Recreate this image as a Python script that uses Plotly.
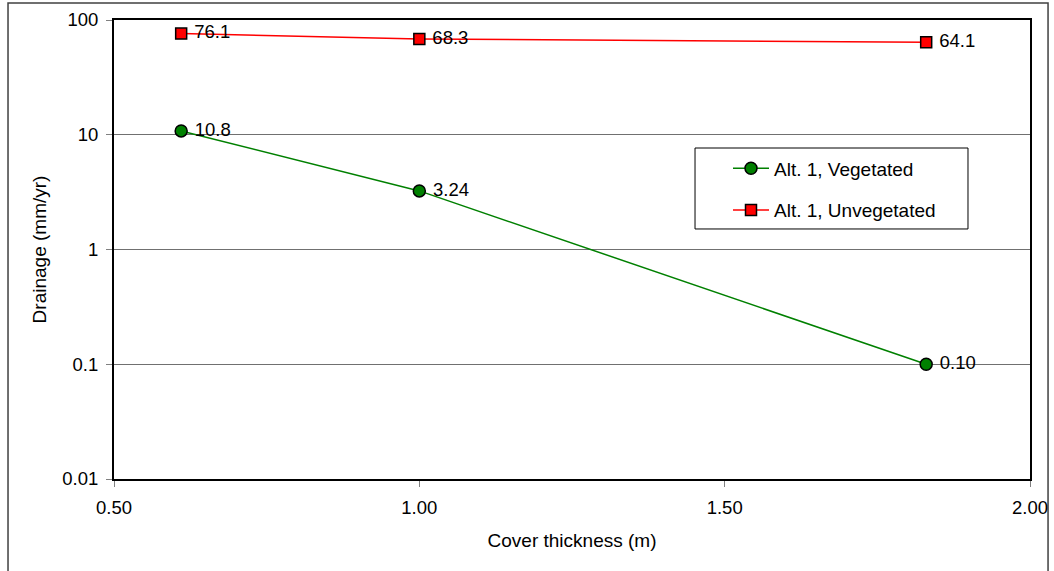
import plotly.graph_objects as go

thickness = [0.61, 1.00, 1.83]
veg = [10.8, 3.24, 0.10]
veg_labels = ["10.8", "3.24", "0.10"]
unveg = [76.1, 68.3, 64.1]
unveg_labels = ["76.1", "68.3", "64.1"]
y_ticks = [0.01, 0.1, 1, 10, 100]
y_tick_text = ["0.01", "0.1", "1", "10", "100"]
x_ticks = [0.5, 1.0, 1.5, 2.0]
x_tick_text = ["0.50", "1.00", "1.50", "2.00"]

font = "Liberation Sans, Arial, sans-serif"
pad = "\u00a0"

fig = go.Figure()
fig.add_trace(go.Scatter(
    x=thickness, y=veg, mode="lines+markers+text", name="Alt. 1, Vegetated",
    legendgroup="veg",
    text=[pad + t for t in veg_labels], textposition="middle right",
    textfont=dict(size=18.5, color="black", family=font),
    line=dict(color="#008000", width=1.5),
    marker=dict(symbol="circle", size=12, color="#008000", line=dict(color="black", width=1.5)),
))
fig.add_trace(go.Scatter(
    x=thickness, y=unveg, mode="lines+markers+text", name="Alt. 1, Unvegetated",
    legendgroup="unveg",
    text=[pad + t for t in unveg_labels], textposition="middle right",
    textfont=dict(size=18.5, color="black", family=font),
    line=dict(color="#ff0000", width=1.5),
    marker=dict(symbol="square", size=11, color="#ff0000", line=dict(color="black", width=1.5)),
))

# outer chart frame
fig.add_shape(type="rect", xref="paper", yref="paper",
              x0=-0.1157, x1=1.0197, y0=-0.4, y1=1.037,
              line=dict(color="#404040", width=1.5), layer="below")
# legend frame
fig.add_shape(type="rect", xref="paper", yref="paper",
              x0=0.6343, x1=0.9323, y0=0.5447, y1=0.7211,
              line=dict(color="black", width=1), fillcolor="white", layer="below")

fig.update_layout(
    width=1054, height=571,
    margin=dict(l=114, r=24, t=20, b=92),
    paper_bgcolor="white", plot_bgcolor="rgba(0,0,0,0)",
    font=dict(family=font, color="black", size=18.5),
    showlegend=True,
    legend=dict(
        x=(728 - 114) / 916, y=0.718, xanchor="left", yanchor="top",
        bgcolor="rgba(0,0,0,0)", borderwidth=0,
        font=dict(size=19, family=font),
        tracegroupgap=14, itemwidth=36,
    ),
    xaxis=dict(
        range=[0.5, 2.0], tickvals=x_ticks, ticktext=x_tick_text,
        showgrid=False, zeroline=False, automargin=False,
        showline=True, linecolor="black", linewidth=2, mirror=True,
        ticks="outside", ticklen=6, tickcolor="#808080",
        tickfont=dict(size=18.5), ticklabelstandoff=5,
        title=dict(text="Cover thickness (m)", font=dict(size=19), standoff=16),
    ),
    yaxis=dict(
        type="log", range=[-2, 2], tickvals=y_ticks, ticktext=y_tick_text,
        showgrid=True, gridcolor="#707070", gridwidth=1, zeroline=False, automargin=False,
        showline=True, linecolor="black", linewidth=2, mirror=True,
        ticks="outside", ticklen=6, tickcolor="#808080",
        tickfont=dict(size=18.5), ticklabelstandoff=4,
        title=dict(text="Drainage (mm/yr)", font=dict(size=19), standoff=11),
    ),
)

fig.write_html("out.html")
